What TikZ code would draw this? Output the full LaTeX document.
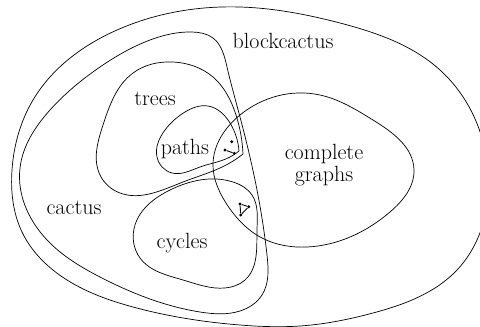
\documentclass[tikz,border=0pt]{standalone}
\usetikzlibrary{hobby}
\begin{document}
\begin{tikzpicture}[x=1pt,y=-1pt,
  blobline/.style={draw=black,line width=0.7pt},
  blob/.style={blobline,use Hobby shortcut,closed=true},
  pointed/.style={blobline,use Hobby shortcut},
  lbl/.style={inner sep=0pt,font=\fontsize{22}{26}\selectfont},
  vtx/.style={circle,fill=black,inner sep=0pt,minimum size=3.2pt},
  gedge/.style={draw=black,line width=0.9pt}]
\useasboundingbox (0,0) rectangle (480,327);
\clip (0,0) rectangle (480,327);
% blockcactus
\draw[blob] (12,170) .. (33,100) .. (117,30) .. (240,7) .. (340,23) .. (440,70) .. (488,170) .. (457,270) .. (373,313) .. (300,326) .. (240,325) .. (133,307) .. (67,280) .. (22,232);
% cactus
\draw[blob] (192,32) .. (213,38) .. (227,67) .. (240,117) .. (255,180) .. (267,255) .. (262,295) .. (240,311) .. (200,312) .. (100,277) .. (50,243) .. (20,168) .. (50,110) .. (100,67) .. (150,40);
% trees
\draw[pointed] (243,154) .. (236,115) .. (213,77) .. (173,62) .. (133,73) .. (103,125) .. (100,175) .. (120,193) .. (183,182) .. (228,164) .. (243,154);
% paths
\draw[pointed] (239,151) .. (230,123) .. (208,106) .. (185,112) .. (165,130) .. (157,157) .. (172,173) .. (200,167) .. (228,158) .. (239,151);
% complete graphs
\draw[blob] (240,115) .. (320,95) .. (373,120) .. (414,170) .. (390,212) .. (307,247) .. (262,238) .. (226,203) .. (213,165);
% cycles
\draw[blob] (233,182) .. (252,195) .. (257,230) .. (245,280) .. (225,288) .. (183,280) .. (140,258) .. (135,225) .. (170,190);
% labels
\node[lbl] (lblock) at (283,41) {blockcactus};
\node[lbl] (ltrees) at (155,99) {trees};
\node[lbl] (lpaths) at (185,149) {paths};
\node[lbl,align=center] (lcomp) at (324,165) {complete\\[-4pt]graphs};
\node[lbl] (lcactus) at (74,208) {cactus};
\node[lbl] (lcycles) at (182,243) {cycles};
% small graphs
\node[vtx] (p1) at (231.7,141.7) {};
\node[vtx] (p2) at (225,150) {};
\node[vtx] (p3) at (234.3,153.3) {};
\draw[gedge] (p2) -- (p3);
\node[vtx] (t1) at (240,204) {};
\node[vtx] (t2) at (248.7,206.7) {};
\node[vtx] (t3) at (240.7,215) {};
\draw[gedge] (t1) -- (t2) -- (t3) -- (t1);
\end{tikzpicture}
\end{document}
